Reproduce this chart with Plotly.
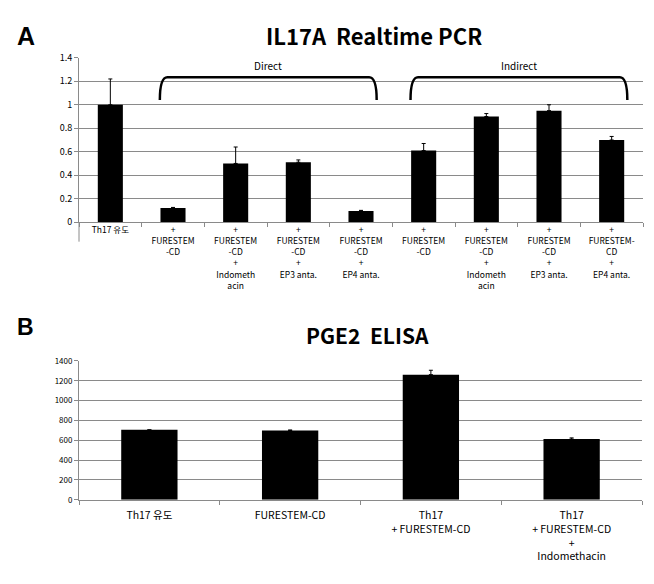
import plotly.graph_objects as go

# ---- panel A : IL17A realtime PCR
a_labels = [
    "Th17 유도",
    "+<br>FURESTEM<br>-CD",
    "+<br>FURESTEM<br>-CD<br>+<br>Indometh<br>acin",
    "+<br>FURESTEM<br>-CD<br>+<br>EP3 anta.",
    "+<br>FURESTEM<br>-CD<br>+<br>EP4 anta.",
    "+<br>FURESTEM<br>-CD",
    "+<br>FURESTEM<br>-CD<br>+<br>Indometh<br>acin",
    "+<br>FURESTEM<br>-CD<br>+<br>EP3 anta.",
    "+<br>FURESTEM-<br>CD<br>+<br>EP4 anta.",
]
a_values = [1.0, 0.12, 0.50, 0.51, 0.095, 0.61, 0.90, 0.95, 0.70]
a_errors = [0.22, 0.005, 0.14, 0.02, 0.005, 0.06, 0.025, 0.05, 0.03]
a_ticks = [0, 0.2, 0.4, 0.6, 0.8, 1, 1.2, 1.4]

groups = ["Direct", "Indirect"]
group_first = [1, 5]
group_last = [4, 8]

# ---- panel B : PGE2 ELISA
b_labels = [
    "Th17 유도",
    "FURESTEM-CD",
    "Th17<br>+ FURESTEM-CD",
    "Th17<br>+ FURESTEM-CD<br>+<br>Indomethacin",
]
b_values = [705, 699, 1262, 612]
b_errors = [0, 5, 44, 12]
b_ticks = [0, 200, 400, 600, 800, 1000, 1200, 1400]

W, H = 654, 584
FONT = "Noto Sans CJK KR"


def px(x):
    return x / W


def py(y):
    return 1 - y / H


fig = go.Figure()

fig.add_trace(go.Bar(
    x=list(range(len(a_values))), y=a_values, width=0.4,
    marker=dict(color="black", line=dict(width=0)),
    error_y=dict(type="data", symmetric=False, array=a_errors,
                 arrayminus=[0] * len(a_errors), color="black", thickness=1, width=2),
    xaxis="x", yaxis="y", showlegend=False,
))
fig.add_trace(go.Bar(
    x=list(range(len(b_values))), y=b_values, width=0.4,
    marker=dict(color="black", line=dict(width=0)),
    error_y=dict(type="data", symmetric=False, array=b_errors,
                 arrayminus=[0] * len(b_errors), color="black", thickness=1, width=2),
    xaxis="x2", yaxis="y2", showlegend=False,
))

grid = "#8a8a8a"
xcommon = dict(tickmode="array", showgrid=False, showline=True, linecolor=grid,
               linewidth=1, ticks="", zeroline=False, tickangle=0,
               minor=dict(ticks="outside", tick0=-0.5, dtick=1, ticklen=4,
                          tickcolor=grid, showgrid=False))
ycommon = dict(showgrid=True, gridcolor=grid, gridwidth=1, showline=True,
               linecolor=grid, ticks="outside", ticklen=4, tickcolor=grid,
               zeroline=False, tickmode="array")

fig.update_layout(
    width=W, height=H,
    margin=dict(l=0, r=0, t=0, b=0),
    paper_bgcolor="white", plot_bgcolor="white",
    font=dict(family=FONT, color="black"),
    bargap=0.6,
    xaxis=dict(xcommon, domain=[px(79), px(643)], range=[-0.5, 8.5],
               tickvals=list(range(len(a_labels))), ticktext=a_labels,
               tickfont=dict(size=8.5), anchor="y"),
    yaxis=dict(ycommon, domain=[py(220), py(52)], range=[0, 1.4],
               tickvals=a_ticks, ticktext=[f"{t:g}" for t in a_ticks],
               tickfont=dict(size=9), anchor="x"),
    xaxis2=dict(xcommon, domain=[px(79), px(642)], range=[-0.5, 3.5],
                tickvals=list(range(len(b_labels))), ticktext=b_labels,
                tickfont=dict(size=10.5), ticklabelstandoff=6, anchor="y2"),
    yaxis2=dict(ycommon, domain=[py(504), py(362)], range=[0, 1400],
                tickvals=b_ticks, ticktext=[str(t) for t in b_ticks],
                tickfont=dict(size=8), anchor="x2"),
)

# brackets over the Direct / Indirect groups
for name, first, last in zip(groups, group_first, group_last):
    x0, x1 = first - 0.21, last + 0.25
    yt, yb = 1.235, 1.04
    d = 0.12
    fig.add_shape(type="path", xref="x", yref="y",
                  path=f"M {x0},{yb} Q {x0},{yt} {x0 + d},{yt} L {x1 - d},{yt} Q {x1},{yt} {x1},{yb}",
                  line=dict(color="black", width=2.5))
    fig.add_annotation(x=(x0 + x1) / 2, y=1.255, xref="x", yref="y", text=name,
                       showarrow=False, font=dict(size=10), yanchor="bottom")

# category separator at the left of the x labels
fig.add_shape(type="line", xref="paper", yref="paper", x0=px(79), x1=px(79),
              y0=py(221), y1=py(240), line=dict(color=grid, width=1))

# panel letters and titles
def label(x, y, text, size, family=FONT):
    fig.add_annotation(x=px(x), y=py(y), xref="paper", yref="paper", text=text,
                       showarrow=False, xanchor="center", yanchor="middle",
                       font=dict(size=size, family=family))


label(26, 30, "<b>A</b>", 25, "Liberation Sans")
label(374, 29, "<b>IL17A  Realtime PCR</b>", 22)
label(25, 327, "<b>B</b>", 23, "Liberation Sans")
label(367, 335, "<b>PGE2  ELISA</b>", 21)

fig.write_html("out.html", post_script="document.body.style.margin='0';",
               config={"displayModeBar": False})
